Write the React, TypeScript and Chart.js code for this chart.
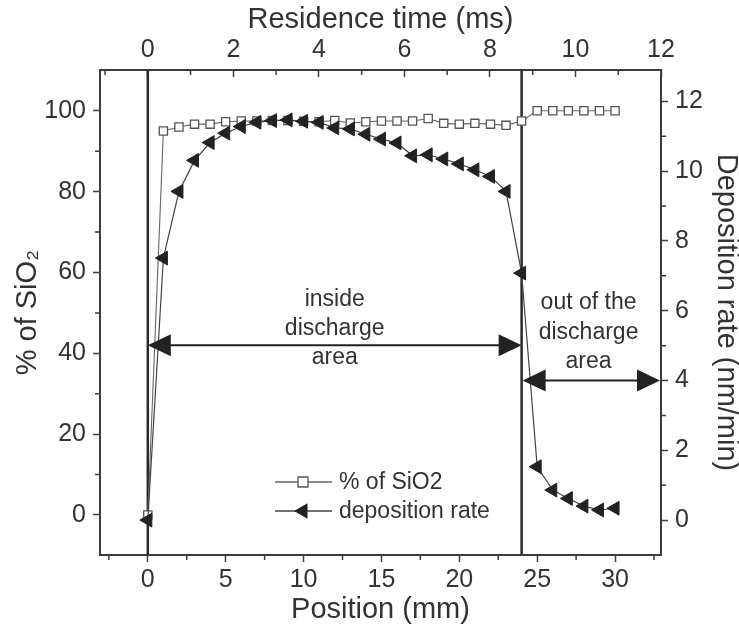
import React, { useEffect, useRef } from "react";
import { Chart, registerables } from "chart.js";

Chart.register(...registerables);

// ---- data ----
const positions = [0, 1, 2, 3, 4, 5, 6, 7, 8, 9, 10, 11, 12, 13, 14, 15, 16, 17, 18, 19, 20, 21, 22, 23, 24, 25, 26, 27, 28, 29, 30];
const sio2Percent = [0, 95.0, 96.0, 96.7, 96.7, 97.3, 97.5, 97.5, 97.6, 97.6, 97.4, 97.3, 97.6, 97.0, 97.3, 97.5, 97.5, 97.5, 98.1, 96.9, 96.7, 96.9, 96.7, 96.4, 97.5, 100, 100, 100, 100, 100, 100];
const depositionRate = [0, 7.51, 9.42, 10.31, 10.82, 11.09, 11.28, 11.4, 11.45, 11.47, 11.43, 11.4, 11.24, 11.21, 11.06, 10.92, 10.81, 10.44, 10.47, 10.35, 10.21, 10.04, 9.85, 9.42, 7.08, 1.53, 0.86, 0.62, 0.4, 0.29, 0.34];

const positionTicks = [0, 5, 10, 15, 20, 25, 30];
const positionMinorTicks = [-2.5, 2.5, 7.5, 12.5, 17.5, 22.5, 27.5, 32.5];
const residenceTicks = [0, 2, 4, 6, 8, 10, 12];
const residenceMinorTicks = [-1, 1, 3, 5, 7, 9, 11];
const sio2Ticks = [0, 20, 40, 60, 80, 100];
const sio2MinorTicks = [10, 30, 50, 70, 90];
const rateTicks = [0, 2, 4, 6, 8, 10, 12];
const rateMinorTicks = [1, 3, 5, 7, 9, 11];

const positionRange = [-3.07, 32.95];
const residenceMax = 12;
const sio2Range = [-9.9, 110.1];
const rateRange = [-1.0, 12.9];

const dischargeBoundaries = [0, 24];
const insideLabel = ["inside", "discharge", "area"];
const outsideLabel = ["out of the", "discharge", "area"];
const insideArrowLevel = 42; // on % axis
const outsideArrowLevel = 4; // on deposition axis
const insideLabelCenter = 12;
const outsideLabelCenter = 28.3;
const legendLabels = ["% of SiO2", "deposition rate"];

const FONT = "'Liberation Sans', Arial, Helvetica, 'DejaVu Sans', sans-serif";
const TEXT = "#333333";
const AXIS = "#3c3c3c";

const msPerMm = residenceMax / positionRange[1];

function drawSquare(ctx: CanvasRenderingContext2D, x: number, y: number, s: number) {
  ctx.save();
  ctx.fillStyle = "#ffffff";
  ctx.strokeStyle = "#555555";
  ctx.lineWidth = 1.3;
  ctx.beginPath();
  ctx.rect(x - s / 2, y - s / 2, s, s);
  ctx.fill();
  ctx.stroke();
  ctx.restore();
}

function drawLeftTriangle(ctx: CanvasRenderingContext2D, x: number, y: number, r: number) {
  ctx.save();
  ctx.fillStyle = "#222222";
  ctx.beginPath();
  ctx.moveTo(x - r, y);
  ctx.lineTo(x + r / 2, y - (r * Math.sqrt(3)) / 2);
  ctx.lineTo(x + r / 2, y + (r * Math.sqrt(3)) / 2);
  ctx.closePath();
  ctx.fill();
  ctx.restore();
}

function drawDoubleArrow(ctx: CanvasRenderingContext2D, x1: number, x2: number, y: number) {
  const hl = 23;
  const hh = 11;
  ctx.save();
  ctx.strokeStyle = "#222222";
  ctx.fillStyle = "#222222";
  ctx.lineWidth = 2;
  ctx.beginPath();
  ctx.moveTo(x1 + hl - 2, y);
  ctx.lineTo(x2 - hl + 2, y);
  ctx.stroke();
  ctx.beginPath();
  ctx.moveTo(x1, y);
  ctx.lineTo(x1 + hl, y - hh);
  ctx.lineTo(x1 + hl, y + hh);
  ctx.closePath();
  ctx.fill();
  ctx.beginPath();
  ctx.moveTo(x2, y);
  ctx.lineTo(x2 - hl, y - hh);
  ctx.lineTo(x2 - hl, y + hh);
  ctx.closePath();
  ctx.fill();
  ctx.restore();
}

const decorPlugin = {
  id: "decor",
  beforeDatasetsDraw(chart: any) {
    const ctx = chart.ctx as CanvasRenderingContext2D;
    const a = chart.chartArea;
    const xs = chart.scales.x;
    ctx.save();
    ctx.strokeStyle = "#2a2a2a";
    ctx.lineWidth = 2.5;
    dischargeBoundaries.forEach((v) => {
      const p = xs.getPixelForValue(v);
      ctx.beginPath();
      ctx.moveTo(p, a.top);
      ctx.lineTo(p, a.bottom);
      ctx.stroke();
    });
    ctx.restore();
  },
  afterDatasetsDraw(chart: any) {
    const ctx = chart.ctx as CanvasRenderingContext2D;
    const a = chart.chartArea;
    const xs = chart.scales.x;
    const x2 = chart.scales.x2;
    const ys = chart.scales.y;
    const y2 = chart.scales.y2;

    // arrows
    const inY = ys.getPixelForValue(insideArrowLevel);
    drawDoubleArrow(ctx, xs.getPixelForValue(dischargeBoundaries[0]), xs.getPixelForValue(dischargeBoundaries[1]), inY);
    const outY = y2.getPixelForValue(outsideArrowLevel);
    drawDoubleArrow(ctx, xs.getPixelForValue(dischargeBoundaries[1]) + 1, a.right - 1, outY);

    ctx.save();
    ctx.fillStyle = TEXT;
    ctx.font = `23px ${FONT}`;
    ctx.textAlign = "center";
    ctx.textBaseline = "middle";
    const inOffsets = [-46, -17, 12];
    insideLabel.forEach((t, i) => ctx.fillText(t, xs.getPixelForValue(insideLabelCenter), inY + inOffsets[i]));
    const outOffsets = [-78, -48, -19];
    outsideLabel.forEach((t, i) => ctx.fillText(t, xs.getPixelForValue(outsideLabelCenter), outY + outOffsets[i]));

    // legend
    const lx = a.left + 175;
    const rows = [a.bottom - 73, a.bottom - 44];
    ctx.textAlign = "left";
    rows.forEach((ry, i) => {
      ctx.strokeStyle = i === 0 ? "#666666" : "#444444";
      ctx.lineWidth = 1.3;
      ctx.beginPath();
      ctx.moveTo(lx, ry);
      ctx.lineTo(lx + 57, ry);
      ctx.stroke();
      if (i === 0) drawSquare(ctx, lx + 28, ry, 10);
      else drawLeftTriangle(ctx, lx + 28, ry, 9);
      ctx.fillStyle = TEXT;
      ctx.fillText(legendLabels[i], lx + 64, ry + 1);
    });

    // minor ticks
    ctx.strokeStyle = AXIS;
    ctx.lineWidth = 1.5;
    ctx.beginPath();
    positionMinorTicks.forEach((v) => {
      const p = xs.getPixelForValue(v);
      ctx.moveTo(p, a.bottom);
      ctx.lineTo(p, a.bottom + 5);
    });
    residenceMinorTicks.forEach((v) => {
      const p = x2.getPixelForValue(v);
      ctx.moveTo(p, a.top);
      ctx.lineTo(p, a.top + 5);
    });
    sio2MinorTicks.forEach((v) => {
      const p = ys.getPixelForValue(v);
      ctx.moveTo(a.left, p);
      ctx.lineTo(a.left - 5, p);
    });
    rateMinorTicks.forEach((v) => {
      const p = y2.getPixelForValue(v);
      ctx.moveTo(a.right, p);
      ctx.lineTo(a.right + 5, p);
    });
    ctx.stroke();
    ctx.restore();
  },
};

export default function App() {
  const ref = useRef<HTMLCanvasElement>(null);

  useEffect(() => {
    const canvas = ref.current;
    if (!canvas) return;

    const tickFont = { family: FONT, size: 25 };
    const titleFont = { family: FONT, size: 29 };
    const gridBase = { drawOnChartArea: false, drawTicks: true, tickLength: 7, tickWidth: 1.5, tickColor: AXIS };
    const border = { display: true, color: AXIS, width: 2 };

    const chart = new Chart(canvas, {
      type: "scatter",
      data: {
        datasets: [
          {
            label: legendLabels[1],
            data: positions.map((p, i) => ({ x: p, y: depositionRate[i] })),
            xAxisID: "x",
            yAxisID: "y2",
            showLine: true,
            borderColor: "#444444",
            borderWidth: 1.2,
            pointStyle: "triangle",
            rotation: -90,
            pointRadius: 8,
            pointBorderWidth: 1,
            pointBackgroundColor: "#222222",
            pointBorderColor: "#222222",
            order: 0,
          },
          {
            label: legendLabels[0],
            data: positions.map((p, i) => ({ x: p, y: sio2Percent[i] })),
            xAxisID: "x",
            yAxisID: "y",
            showLine: true,
            borderColor: "#666666",
            borderWidth: 1.1,
            pointStyle: "rect",
            pointRadius: 5.8,
            pointBorderWidth: 1.3,
            pointBackgroundColor: "#ffffff",
            pointBorderColor: "#555555",
            order: 1,
          },
        ],
      },
      options: {
        animation: false,
        responsive: true,
        maintainAspectRatio: false,
        layout: { padding: 0 },
        plugins: { legend: { display: false }, tooltip: { enabled: false } },
        scales: {
          x: {
            type: "linear",
            position: "bottom",
            min: positionRange[0],
            max: positionRange[1],
            afterBuildTicks: (s: any) => {
              s.ticks = positionTicks.map((v) => ({ value: v }));
            },
            afterFit: (s: any) => {
              s.height = 77;
            },
            grid: { ...gridBase },
            border,
            ticks: { font: tickFont, color: TEXT, padding: 3, maxRotation: 0, autoSkip: false },
            title: { display: true, text: "Position (mm)", font: titleFont, color: TEXT, padding: { top: 0, bottom: 5 } },
          },
          x2: {
            type: "linear",
            position: "top",
            min: positionRange[0] * msPerMm,
            max: positionRange[1] * msPerMm,
            afterBuildTicks: (s: any) => {
              s.ticks = residenceTicks.map((v) => ({ value: v }));
            },
            afterFit: (s: any) => {
              s.height = 70;
            },
            grid: { ...gridBase, tickLength: -7 },
            border,
            ticks: { font: tickFont, color: TEXT, padding: 12, maxRotation: 0, autoSkip: false },
            title: { display: true, text: "Residence time (ms)", font: titleFont, color: TEXT, padding: { top: 3, bottom: 0 } },
          },
          y: {
            type: "linear",
            position: "left",
            min: sio2Range[0],
            max: sio2Range[1],
            afterBuildTicks: (s: any) => {
              s.ticks = sio2Ticks.map((v) => ({ value: v }));
            },
            afterFit: (s: any) => {
              s.width = 100;
            },
            grid: { ...gridBase },
            border,
            ticks: { font: tickFont, color: TEXT, padding: 7, autoSkip: false },
            title: { display: true, text: "% of SiO₂", font: titleFont, color: TEXT, padding: { top: 11, bottom: 0 } },
          },
          y2: {
            type: "linear",
            position: "right",
            min: rateRange[0],
            max: rateRange[1],
            afterBuildTicks: (s: any) => {
              s.ticks = rateTicks.map((v) => ({ value: v }));
            },
            afterFit: (s: any) => {
              s.width = 78;
            },
            grid: { ...gridBase },
            border,
            ticks: { font: tickFont, color: TEXT, padding: 7, autoSkip: false },
            title: { display: true, text: "Deposition rate (nm/min)", font: titleFont, color: TEXT, padding: { top: -4, bottom: 0 } },
          },
        },
      },
      plugins: [decorPlugin],
    } as any);

    return () => chart.destroy();
  }, []);

  return (
    <div style={{ position: "absolute", left: 0, top: 0, width: 739, height: 632, background: "#ffffff" }}>
      <canvas ref={ref} />
    </div>
  );
}
